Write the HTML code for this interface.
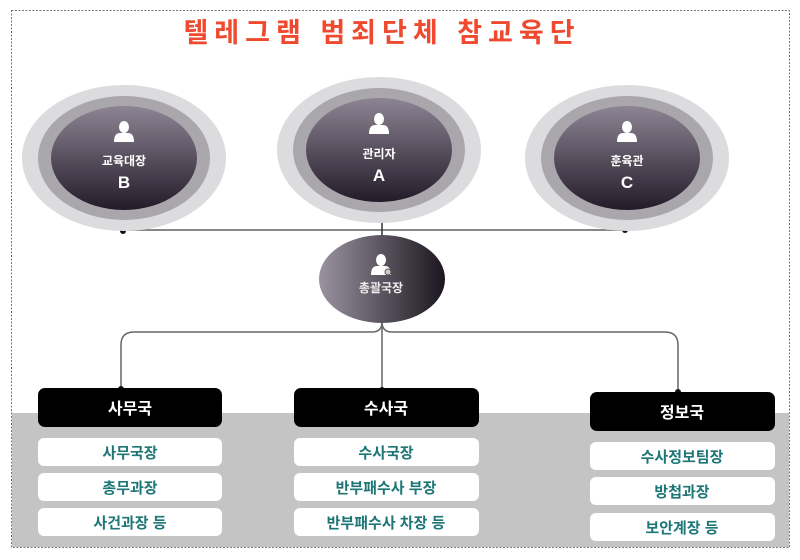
<!DOCTYPE html>
<html><head><meta charset="utf-8"><style>
html,body{margin:0;padding:0;background:#fff;}
svg{display:block;}
text{font-family:"Liberation Sans","Noto Sans CJK KR","NanumGothic",sans-serif;font-weight:bold;}
</style></head><body>
<svg width="800" height="560" viewBox="0 0 800 560" xmlns="http://www.w3.org/2000/svg">
<defs>
<linearGradient id="gv" x1="0" y1="0" x2="0" y2="1">
<stop offset="0" stop-color="#8e8594"/><stop offset="1" stop-color="#231b28"/></linearGradient>
<linearGradient id="gh" x1="0" y1="0" x2="1" y2="0">
<stop offset="0" stop-color="#9a92a0"/><stop offset="1" stop-color="#1c1620"/></linearGradient>
<g id="person" fill="#fff">
<ellipse cx="0" cy="-6" rx="5" ry="6"/>
<path d="M-10,9 Q-10,0 -4,0 L4,0 Q10,0 10,9 Z"/>
</g>
</defs>
<rect x="12" y="413" width="777" height="134" fill="#c4c4c4"/>
<rect x="11.5" y="10.5" width="778" height="537" fill="none" stroke="#777" stroke-width="1" stroke-dasharray="2,1.5"/>
<text x="382" y="42" font-size="27" fill="#ef4a2f" text-anchor="middle" letter-spacing="6">텔레그램 범죄단체 참교육단</text>

<line x1="123" y1="230" x2="625" y2="230" stroke="#888" stroke-width="2"/>
<line x1="382" y1="220" x2="382" y2="236" stroke="#333" stroke-width="1.5"/>
<circle cx="123" cy="231" r="3" fill="#111"/>
<circle cx="625" cy="230" r="3" fill="#111"/>
<circle cx="382" cy="221" r="2" fill="#111"/>
<g fill="none" stroke="#666" stroke-width="1.5">
<line x1="382" y1="320" x2="382" y2="389"/>
<path d="M382,322 Q382,332 372,332 L134,332 Q121,332 121,345 L121,389"/>
<path d="M382,322 Q382,332 392,332 L665,332 Q678,332 678,345 L678,392"/>
</g>
<circle cx="121" cy="389" r="3" fill="#111"/>
<circle cx="382" cy="390" r="3" fill="#111"/>
<circle cx="678" cy="392" r="3" fill="#111"/>

<g>
<ellipse cx="124" cy="158" rx="102" ry="73" fill="#dcdbdd"/>
<ellipse cx="124" cy="158" rx="86" ry="62" fill="#a9a7ab"/>
<ellipse cx="124" cy="158" rx="73" ry="52" fill="url(#gv)"/>
<use href="#person" x="124" y="133"/>
<text x="124" y="165" font-size="12" fill="#fff" text-anchor="middle">교육대장</text>
<text x="124" y="188" font-size="17" fill="#fff" text-anchor="middle">B</text>
</g>
<g>
<ellipse cx="379" cy="150" rx="102" ry="73" fill="#dcdbdd"/>
<ellipse cx="379" cy="150" rx="86" ry="62" fill="#a9a7ab"/>
<ellipse cx="379" cy="150" rx="73" ry="52" fill="url(#gv)"/>
<use href="#person" x="379" y="125"/>
<text x="379" y="158" font-size="12" fill="#fff" text-anchor="middle">관리자</text>
<text x="379" y="181" font-size="17" fill="#fff" text-anchor="middle">A</text>
</g>
<g>
<ellipse cx="627" cy="158" rx="102" ry="73" fill="#dcdbdd"/>
<ellipse cx="627" cy="158" rx="86" ry="62" fill="#a9a7ab"/>
<ellipse cx="627" cy="158" rx="73" ry="52" fill="url(#gv)"/>
<use href="#person" x="627" y="133"/>
<text x="627" y="165" font-size="12" fill="#fff" text-anchor="middle">훈육관</text>
<text x="627" y="188" font-size="17" fill="#fff" text-anchor="middle">C</text>
</g>

<ellipse cx="382" cy="279" rx="63" ry="44" fill="url(#gh)"/>
<use href="#person" x="381" y="266"/>
<circle cx="388" cy="272" r="3" fill="#ccc" stroke="#555" stroke-width="1"/>
<text x="381" y="292" font-size="12" fill="#eee" text-anchor="middle">총괄국장</text>

<g>
<rect x="38" y="388" width="184" height="39" rx="7" fill="#000"/>
<text x="130" y="414" fill="#fff" font-size="16" text-anchor="middle">사무국</text>
<rect x="294" y="388" width="185" height="39" rx="7" fill="#000"/>
<text x="386" y="414" fill="#fff" font-size="16" text-anchor="middle">수사국</text>
<rect x="590" y="392" width="185" height="39" rx="7" fill="#000"/>
<text x="682" y="418" fill="#fff" font-size="16" text-anchor="middle">정보국</text>
</g>
<g fill="#fff">
<rect x="38" y="438" width="184" height="28" rx="6"/>
<rect x="38" y="473" width="184" height="28" rx="6"/>
<rect x="38" y="508" width="184" height="28" rx="6"/>
<rect x="294" y="438" width="185" height="28" rx="6"/>
<rect x="294" y="473" width="185" height="28" rx="6"/>
<rect x="294" y="508" width="185" height="28" rx="6"/>
<rect x="590" y="442" width="185" height="28" rx="6"/>
<rect x="590" y="477" width="185" height="28" rx="6"/>
<rect x="590" y="513" width="185" height="28" rx="6"/>
</g>
<g fill="#1e7676" font-size="15" text-anchor="middle">
<text x="130" y="458">사무국장</text>
<text x="130" y="493">총무과장</text>
<text x="130" y="528">사건과장 등</text>
<text x="386" y="458">수사국장</text>
<text x="386" y="493">반부패수사 부장</text>
<text x="386" y="528">반부패수사 차장 등</text>
<text x="682" y="462">수사정보팀장</text>
<text x="682" y="497">방첩과장</text>
<text x="682" y="533">보안계장 등</text>
</g>
</svg>
</body></html>
